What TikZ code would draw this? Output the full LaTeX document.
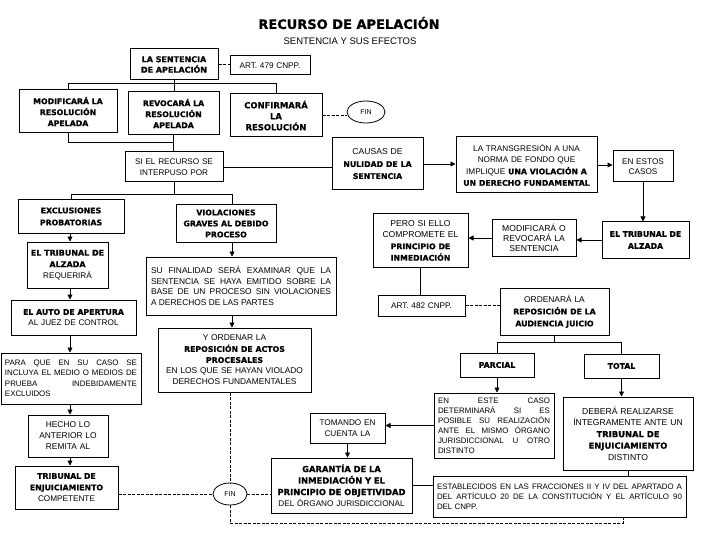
\documentclass[tikz,border=0pt]{standalone}
\usepackage{fontspec}
\setmainfont{Liberation Sans}
\newfontfamily\hvfam{DejaVu Sans}[BoldFeatures={FakeBold=0.8}]
\usetikzlibrary{arrows.meta,shapes.geometric}
\def\bsz{7.8}
\newcommand\hb[1]{{\hvfam\bfseries\fontsize{\bsz}{\the\baselineskip}\selectfont #1}}
\newcommand\fs[2]{\fontsize{#1}{#2}\selectfont}
\tikzset{
  box/.style={draw, line width=1pt, inner sep=2pt, align=center, font=\fs{8.2}{10.5}},
  jbox/.style={box, align=justify},
  arr/.style={-{Triangle[width=5pt,length=5pt]}, line width=0.8pt},
  ln/.style={line width=0.8pt},
  dl/.style={line width=0.7pt, dash pattern=on 3pt off 1.5pt},
  finnode/.style={draw, ellipse, line width=0.8pt, inner sep=0pt, font=\fs{7}{8}},
}
\begin{document}
\begin{tikzpicture}[x=1pt,y=-1pt]
\fill[white] (0,0) rectangle (720,540);
\useasboundingbox (0,0) rectangle (720,540);

% title
\node[font={\hvfam\bfseries\fontsize{13}{15}\selectfont}] (title) at (349,23) {RECURSO DE APELACIÓN};
\node[font=\fs{9.5}{11}] (subtitle) at (350,41) {SENTENCIA Y SUS EFECTOS};

% top
\node[box, minimum width=88pt, minimum height=31pt, text width=82pt, font={\fs{8.2}{10.5}\def\bsz{8}}] (sent) at (174,64.5) {\hb{LA SENTENCIA}\\\hb{DE APELACIÓN}};
\node[box, minimum width=80pt, minimum height=19pt, text width=74pt] (art479) at (270,65.5) {ART. 479 CNPP.};
\node[box, minimum width=98pt, minimum height=43pt, text width=92pt, font=\fs{8}{11}] (modif) at (68,111.5) {\hb{MODIFICARÁ LA}\\\hb{RESOLUCIÓN}\\\hb{APELADA}};
\node[box, minimum width=91pt, minimum height=43pt, text width=85pt, font=\fs{8}{11}] (revoc) at (173.5,113.5) {\hb{REVOCARÁ LA}\\\hb{RESOLUCIÓN}\\\hb{APELADA}};
\node[box, minimum width=92pt, minimum height=43pt, text width=86pt, font={\fs{8}{11}\def\bsz{8.4}}] (confirm) at (276,115.5) {\hb{CONFIRMARÁ}\\\hb{LA}\\\hb{RESOLUCIÓN}};
\node[finnode, minimum width=38pt, minimum height=22pt] (fin1) at (366,112) {FIN};
\node[box, minimum width=98pt, minimum height=30pt, text width=92pt] (siel) at (174,167) {SI EL RECURSO SE\\INTERPUSO POR};

% right upper chain
\node[box, minimum width=91pt, minimum height=52pt, text width=85pt, font=\fs{8.6}{12}] (causas) at (377.5,164) {CAUSAS DE\\\hb{NULIDAD DE LA}\\\hb{SENTENCIA}};
\node[box, minimum width=141pt, minimum height=56pt, text width=135pt, font=\fs{8.2}{11.5}] (transg) at (526.5,165) {LA TRANSGRESIÓN A UNA\\NORMA DE FONDO QUE\\IMPLIQUE \hb{UNA VIOLACIÓN A}\\\hb{UN DERECHO FUNDAMENTAL}};
\node[box, minimum width=60pt, minimum height=31pt, text width=56pt] (estos) at (643,166.5) {EN ESTOS\\CASOS};
\node[box, minimum width=87pt, minimum height=36pt, text width=81pt, font=\fs{8}{12}] (tribR) at (645.5,240) {\hb{EL TRIBUNAL DE}\\\hb{ALZADA}};
\node[box, minimum width=84pt, minimum height=36pt, text width=78pt, font=\fs{8.6}{10}] (modrev) at (534,238) {MODIFICARÁ O\\REVOCARÁ LA\\SENTENCIA};
\node[box, minimum width=95pt, minimum height=53pt, text width=89pt, font=\fs{8.6}{11.5}] (pero) at (420.5,240.5) {PERO SI ELLO\\COMPROMETE EL\\\hb{PRINCIPIO DE}\\\hb{INMEDIACIÓN}};
\node[box, minimum width=87pt, minimum height=21pt, text width=81pt] (art482) at (421.5,305.5) {ART. 482 CNPP.};
\node[box, minimum width=109pt, minimum height=47pt, text width=103pt, font=\fs{8.4}{12}] (orden) at (554.5,311.5) {ORDENARÁ LA\\\hb{REPOSICIÓN DE LA}\\\hb{AUDIENCIA JUICIO}};
\node[box, minimum width=74pt, minimum height=24pt, text width=68pt] (parcial) at (497,365) {\hb{PARCIAL}};
\node[box, minimum width=75pt, minimum height=24pt, text width=69pt] (total) at (621.5,366) {\hb{TOTAL}};
\node[jbox, minimum width=120pt, minimum height=65pt, text width=112pt, font=\fs{7.9}{10}] (este) at (494,425.5) {EN ESTE CASO\linebreak DETERMINARÁ SI ES\linebreak POSIBLE SU REALIZACIÓN\linebreak ANTE EL MISMO ÓRGANO\linebreak JURISDICCIONAL U OTRO\linebreak DISTINTO};
\node[box, minimum width=130pt, minimum height=73pt, text width=124pt, font={\fs{8.6}{11.5}\def\bsz{8.4}}] (debera) at (628,433.5) {DEBERÁ REALIZARSE\\ÍNTEGRAMENTE ANTE UN\\\hb{TRIBUNAL DE}\\\hb{ENJUICIAMIENTO}\\DISTINTO};
\node[jbox, minimum width=253pt, minimum height=41pt, text width=245pt, font=\fs{7.9}{10}] (estab) at (559.5,496.5) {ESTABLECIDOS EN LAS FRACCIONES II Y IV DEL APARTADO A\linebreak DEL ARTÍCULO 20 DE LA CONSTITUCIÓN Y EL ARTÍCULO 90\linebreak DEL CNPP.};
\node[box, minimum width=75pt, minimum height=30pt, text width=69pt] (tomando) at (347.5,428) {TOMANDO EN\\CUENTA LA};
\node[box, minimum width=141pt, minimum height=55pt, text width=137pt, font={\fs{8.2}{11.5}\def\bsz{8.4}}] (garant) at (341.5,485.5) {\hb{GARANTÍA DE LA}\\\hb{INMEDIACIÓN Y EL}\\\hb{PRINCIPIO DE OBJETIVIDAD}\\DEL ÓRGANO JURISDICCIONAL};
\node[finnode, minimum width=34pt, minimum height=22pt] (fin2) at (230,494) {FIN};

% left column
\node[box, minimum width=106pt, minimum height=33pt, text width=100pt, font=\fs{8}{12}] (exclu) at (71,216.5) {\hb{EXCLUSIONES}\\\hb{PROBATORIAS}};
\node[box, minimum width=100pt, minimum height=37pt, text width=94pt, font=\fs{8}{11}] (viol) at (226,223.5) {\hb{VIOLACIONES}\\\hb{GRAVES AL DEBIDO}\\\hb{PROCESO}};
\node[box, minimum width=81pt, minimum height=46pt, text width=77pt, font={\fs{8.2}{11.5}\def\bsz{8}}] (tribA) at (67.5,265) {\hb{EL TRIBUNAL DE}\\\hb{ALZADA}\\REQUERIRÁ};
\node[box, minimum width=125pt, minimum height=35pt, text width=119pt, font=\fs{8.2}{11}] (auto) at (73.5,317.5) {\hb{EL AUTO DE APERTURA}\\AL JUEZ DE CONTROL};
\node[jbox, minimum width=140pt, minimum height=51pt, text width=132pt, font=\fs{7.9}{10.5}] (para) at (71,378.5) {PARA QUE EN SU CASO SE\linebreak INCLUYA EL MEDIO O MEDIOS DE\linebreak PRUEBA INDEBIDAMENTE\linebreak EXCLUIDOS};
\node[box, minimum width=80pt, minimum height=42pt, text width=74pt, font=\fs{8.4}{11}] (hecho) at (68,436) {HECHO LO\\ANTERIOR LO\\REMITA AL};
\node[box, minimum width=103pt, minimum height=43pt, text width=97pt, font=\fs{8.2}{11.5}] (tribE) at (66.5,487.5) {\hb{TRIBUNAL DE}\\\hb{ENJUICIAMIENTO}\\COMPETENTE};
\node[jbox, minimum width=190pt, minimum height=58pt, text width=180pt, font=\fs{8.4}{10.5}] (final) at (241,286) {SU FINALIDAD SERÁ EXAMINAR QUE LA\linebreak SENTENCIA SE HAYA EMITIDO SOBRE LA\linebreak BASE DE UN PROCESO SIN VIOLACIONES\linebreak A DERECHOS DE LAS PARTES};
\node[box, minimum width=153pt, minimum height=64pt, text width=147pt, font=\fs{8.4}{11}] (yord) at (234.5,360) {Y ORDENAR LA\\\hb{REPOSICIÓN DE ACTOS}\\\hb{PROCESALES}\\EN LOS QUE SE HAYAN VIOLADO\\DERECHOS FUNDAMENTALES};

% connectors top
\draw[dl] (sent.east) -- (sent.east -| art479.west);
\coordinate (t1) at (174,83);
\draw[ln] (sent.south) -- (sent.south |- revoc.north);
\draw[ln] (modif.north) -- (modif.north |- t1) -- (confirm.north |- t1) -- (confirm.north);
\coordinate (t2) at (174,142);
\draw[ln] (modif.south) -- (modif.south |- t2) -- (revoc.south |- t2);
\draw[ln] (revoc.south) -- (revoc.south |- siel.north);
\draw[dl] (confirm.east) -- (confirm.east -| fin1.west);
\draw[ln] (siel.east) -- (siel.east -| causas.west);

% right chain
\draw[arr] (causas.east) -- (causas.east -| transg.west);
\draw[arr] (transg.east) -- (transg.east -| estos.west);
\draw[arr] (estos.south) -- (estos.south |- tribR.north);
\draw[arr] (tribR.west) -- (tribR.west -| modrev.east);
\draw[arr] (modrev.west) -- (modrev.west -| pero.east);
\draw[ln] (pero.south) -- (pero.south |- art482.north);
\draw[dl] (art482.east) -- (art482.east -| orden.west);
\coordinate (t3) at (555,342);
\draw[ln] (orden.south) -- (orden.south |- t3);
\draw[ln] (parcial.north) -- (parcial.north |- t3) -- (total.north |- t3) -- (total.north);
\draw[arr] (parcial.south) -- (parcial.south |- este.north);
\draw[arr] (total.south) -- (total.south |- debera.north);
\draw[ln] (debera.south) -- (debera.south |- estab.north);
\draw[arr] (este.west) -- (este.west -| tomando.east);
\draw[arr] (tomando.south) -- (tomando.south |- garant.north);
\draw[ln] (garant.east) -- (garant.east -| estab.west);

% FIN bottom
\draw[dl] (fin2.west -| tribE.east) -- (fin2.west);
\draw[dl] (fin2.east) -- (fin2.east -| garant.west);
\draw[dl] (fin2.north |- yord.south) -- (fin2.north);
\coordinate (t4) at (623,523);
\draw[dl] (fin2.south) |- (t4) -- (t4 |- estab.south);

% left column
\coordinate (t5) at (232,194);
\draw[ln] (siel.south) -- (siel.south |- t5);
\draw[ln] (exclu.north) |- (t5) -- (t5 |- viol.north);
\coordinate (cx) at (70,0);
\draw[arr] (cx |- exclu.south) -- (cx |- tribA.north);
\draw[arr] (cx |- tribA.south) -- (cx |- auto.north);
\draw[arr] (cx |- auto.south) -- (cx |- para.north);
\draw[arr] (cx |- para.south) -- (cx |- hecho.north);
\draw[arr] (cx |- hecho.south) -- (cx |- tribE.north);
\draw[arr] (t5 |- viol.south) -- (t5 |- final.north);
\draw[arr] (t5 |- final.south) -- (t5 |- yord.north);
\end{tikzpicture}
\end{document}
